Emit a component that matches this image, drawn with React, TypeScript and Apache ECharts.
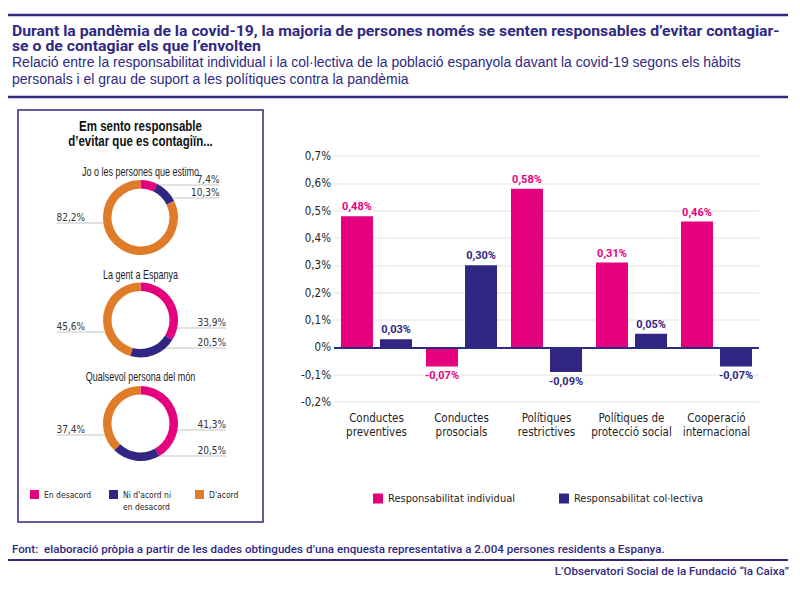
import React, { useEffect, useRef } from 'react';
import * as echarts from 'echarts';

// ---- data ----
const categories = [
  'Conductes\npreventives',
  'Conductes\nprosocials',
  'Polítiques\nrestrictives',
  'Polítiques de\nprotecció social',
  'Cooperació\ninternacional',
];
const seriesNames = ['Responsabilitat individual', 'Responsabilitat col·lectiva'];
const individual = [0.48, -0.07, 0.58, 0.31, 0.46];
const collective = [0.03, 0.3, -0.09, 0.05, -0.07];
const yMin = -0.2;
const yMax = 0.7;
const yStep = 0.1;

const agreementLevels = ['En desacord', "Ni d'acord ni en desacord", "D'acord"];
const groups = ['Jo o les persones que estimo', 'La gent a Espanya', 'Qualsevol persona del món'];
const groupShares = [
  [7.4, 10.3, 82.2],
  [33.9, 20.5, 45.6],
  [41.3, 20.5, 37.4],
];

const titleLines = [
  'Durant la pandèmia de la covid-19, la majoria de persones només se senten responsables d’evitar contagiar-',
  'se o de contagiar els que l’envolten',
];
const subtitleLines = [
  'Relació entre la responsabilitat individual i la col·lectiva de la població espanyola davant la covid-19 segons els hàbits',
  'personals i el grau de suport a les polítiques contra la pandèmia',
];
const boxTitleLines = ['Em sento responsable', 'd’evitar que es contagiïn...'];
const sourceText =
  'Font:  elaboració pròpia a partir de les dades obtingudes d’una enquesta representativa a 2.004 persones residents a Espanya.';
const creditText = 'L’Observatori Social de la Fundació “la Caixa”';

// ---- styles & layout ----
const PURPLE = '#2f2982';
const BAR_PURPLE = '#312783';
const PINK = '#e5007e';
const ORANGE = '#e07b29';
const levelColors = [PINK, BAR_PURPLE, ORANGE];
const COND = '"DejaVu Sans Condensed", "Liberation Sans", sans-serif';
const SANS = '"Liberation Sans", Arial, sans-serif';
const HEAD = 'Roboto, "Noto Sans", sans-serif';
const TEXT = '#1e1e1e';

const donutCx = 140.5;
const donutCy = [217.5, 320, 423.5];
const donutTitleY = [171, 274, 376];
// vertical offset of each leader line from the donut centre, per slice
const leaderDy = [
  [-32.5, -19.5, 5.5],
  [8, 28, 12],
  [6.5, 32.5, 11.5],
];
const leaderRightEnd = [79, 85.5, 85.5];
const leaderLeftEnd = -84;

const pct1 = (v: number) => v.toFixed(1).replace('.', ',') + '%';
const pct2 = (v: number) => v.toFixed(2).replace('.', ',') + '%';

// horizontal squeeze that makes a text line span the given width
let measureCtx: CanvasRenderingContext2D | null = null;
function squeeze(text: string, font: string, width: number) {
  if (!measureCtx) measureCtx = document.createElement('canvas').getContext('2d');
  if (!measureCtx) return 1;
  measureCtx.font = font;
  const w = measureCtx.measureText(text).width;
  return w > 0 ? width / w : 1;
}

function barData(values: number[]) {
  return values.map((v) => ({
    value: v,
    label: { position: v < 0 ? 'bottom' : 'top' },
  }));
}

function buildOption(): any {
  const pies = groups.map((g, k) => {
    const cy = donutCy[k];
    return {
      type: 'pie',
      name: g,
      center: [donutCx, cy],
      radius: [29, 37.5],
      startAngle: 90,
      clockwise: true,
      avoidLabelOverlap: false,
      silent: true,
      data: groupShares[k].map((v, i) => ({
        name: agreementLevels[i],
        value: v,
        itemStyle: { color: levelColors[i] },
      })),
      label: {
        show: true,
        position: 'outside',
        formatter: (p: any) => pct1(p.value),
        fontFamily: COND,
        fontSize: 10,
        color: '#333',
      },
      labelLine: { show: true, lineStyle: { color: '#c4c4c4', width: 1 } },
      labelLayout: (p: any) => {
        const i = p.dataIndex;
        const dy = leaderDy[k][i];
        const left = i === 2;
        const y = cy + dy;
        const r = 33;
        const x0 = donutCx + (left ? -1 : 1) * Math.sqrt(Math.max(r * r - dy * dy, 0));
        const x1 = left ? donutCx + leaderLeftEnd : donutCx + leaderRightEnd[k];
        return {
          x: x1,
          y: y - 1,
          align: left ? 'left' : 'right',
          verticalAlign: 'bottom',
          labelLinePoints: [
            [x0, y],
            [x0, y],
            [x1, y],
          ],
        };
      },
    };
  });

  const boxLegend = {
    orient: 'horizontal',
    icon: 'rect',
    itemWidth: 9,
    itemHeight: 9,
    padding: 0,
    selectedMode: false,
    textStyle: { fontFamily: COND, fontSize: 8.5, lineHeight: 12, color: TEXT },
  };

  // title block
  const titleFont = 'bold 15px Roboto';
  const titleScale = squeeze(titleLines[0], titleFont, 768);
  const subFont = '15px "Liberation Sans"';
  const subScale = squeeze(subtitleLines[0], subFont, 729);
  const boxFont = 'bold 14px "Liberation Sans"';
  const boxScale = squeeze(boxTitleLines[0], boxFont, 123);
  const donutFont = '12px "Liberation Sans"';
  const donutScale = squeeze(groups[0], donutFont, 117);
  const sourceFont = '500 11.5px Roboto';
  const sourceScale = squeeze(sourceText, sourceFont, 653);

  const lineText = (
    text: string,
    x: number,
    y: number,
    scale: number,
    style: any,
  ) => ({
    type: 'text',
    x,
    y,
    scaleX: scale,
    style: { text, x: 0, y: 0, verticalAlign: 'middle', ...style },
  });

  const rule = (y: number, w: number) => ({
    type: 'line',
    shape: { x1: 8, y1: y, x2: 788, y2: y },
    style: { stroke: PURPLE, lineWidth: w },
  });

  const titleStyle = { fontFamily: HEAD, fontWeight: 'bold', fontSize: 15, fill: PURPLE };
  const subStyle = { fontFamily: SANS, fontSize: 15, fill: PURPLE };
  const boxStyle = { fontFamily: SANS, fontWeight: 'bold', fontSize: 14, fill: '#111', align: 'center' };
  const donutStyle = { fontFamily: SANS, fontSize: 12, fill: TEXT, align: 'center' };
  const footStyle = { fontFamily: HEAD, fontWeight: 500, fontSize: 11.5, fill: PURPLE };

  return {
    animation: false,
    textStyle: { fontFamily: COND },
    graphic: [
      rule(15, 2.5),
      lineText(titleLines[0], 12, 31, titleScale, titleStyle),
      lineText(titleLines[1], 12, 46, titleScale, titleStyle),
      lineText(subtitleLines[0], 12, 62, subScale, subStyle),
      lineText(subtitleLines[1], 12, 79, subScale, subStyle),
      rule(97, 2.5),
      {
        type: 'rect',
        shape: { x: 18, y: 110, width: 245, height: 412 },
        style: { fill: 'none', stroke: PURPLE, lineWidth: 1.5 },
      },
      lineText(boxTitleLines[0], donutCx, 126, boxScale, boxStyle),
      lineText(boxTitleLines[1], donutCx, 141, boxScale, boxStyle),
      ...groups.map((g, k) => lineText(g, donutCx, donutTitleY[k], donutScale, donutStyle)),
      lineText(sourceText, 12, 549, sourceScale, footStyle),
      rule(560, 2),
      lineText(creditText, 789, 571, sourceScale, { ...footStyle, align: 'right' }),
    ],
    legend: [
      { ...boxLegend, data: [agreementLevels[0]], left: 30, top: 488.5 },
      {
        ...boxLegend,
        data: [agreementLevels[1]],
        left: 109,
        top: 476.5,
        formatter: () => " \nNi d'acord ni\nen desacord",
      },
      { ...boxLegend, data: [agreementLevels[2]], left: 195, top: 488.5 },
      {
        ...boxLegend,
        data: seriesNames,
        left: 373,
        top: 493,
        itemWidth: 10,
        itemHeight: 10,
        itemGap: 44,
        textStyle: { fontFamily: COND, fontSize: 11, color: TEXT },
      },
    ],
    grid: { left: 334, right: 41, top: 156, bottom: 189 },
    xAxis: {
      type: 'category',
      data: categories,
      axisLine: { show: false, onZero: false },
      axisTick: { show: false },
      axisLabel: {
        margin: 8.5,
        fontFamily: COND,
        fontSize: 11.5,
        lineHeight: 14.5,
        color: TEXT,
        interval: 0,
      },
    },
    yAxis: {
      type: 'value',
      min: yMin,
      max: yMax,
      interval: yStep,
      axisLine: { show: false },
      axisTick: { show: false },
      splitLine: { lineStyle: { color: '#ececec', width: 1.5 } },
      axisLabel: {
        margin: 3,
        fontFamily: COND,
        fontSize: 11.5,
        color: TEXT,
        formatter: (v: number) => (Math.round(v * 10) / 10).toString().replace('.', ',') + '%',
      },
    },
    series: [
      {
        type: 'bar',
        name: seriesNames[0],
        data: barData(individual),
        barWidth: 32,
        barGap: '22%',
        itemStyle: { color: PINK },
        label: {
          show: true,
          distance: 4,
          formatter: (p: any) => pct2(p.value),
          fontFamily: HEAD,
          fontWeight: 'bold',
          fontSize: 11,
          color: PINK,
        },
        markLine: {
          silent: true,
          symbol: 'none',
          label: { show: false },
          lineStyle: { color: PURPLE, width: 2, type: 'solid' },
          data: [{ yAxis: 0 }],
          z: 10,
        },
      },
      {
        type: 'bar',
        name: seriesNames[1],
        data: barData(collective),
        barWidth: 32,
        barGap: '22%',
        itemStyle: { color: BAR_PURPLE },
        label: {
          show: true,
          distance: 4,
          formatter: (p: any) => pct2(p.value),
          fontFamily: HEAD,
          fontWeight: 'bold',
          fontSize: 11,
          color: BAR_PURPLE,
        },
      },
      ...pies,
    ],
  };
}

export default function App() {
  const ref = useRef<HTMLDivElement>(null);
  useEffect(() => {
    if (!ref.current) return;
    const chart = echarts.init(ref.current, null, { renderer: 'svg' });
    chart.setOption(buildOption());
    return () => chart.dispose();
  }, []);
  return (
    <div
      ref={ref}
      style={{ position: 'fixed', left: 0, top: 0, width: 800, height: 591, background: '#fff' }}
    />
  );
}
